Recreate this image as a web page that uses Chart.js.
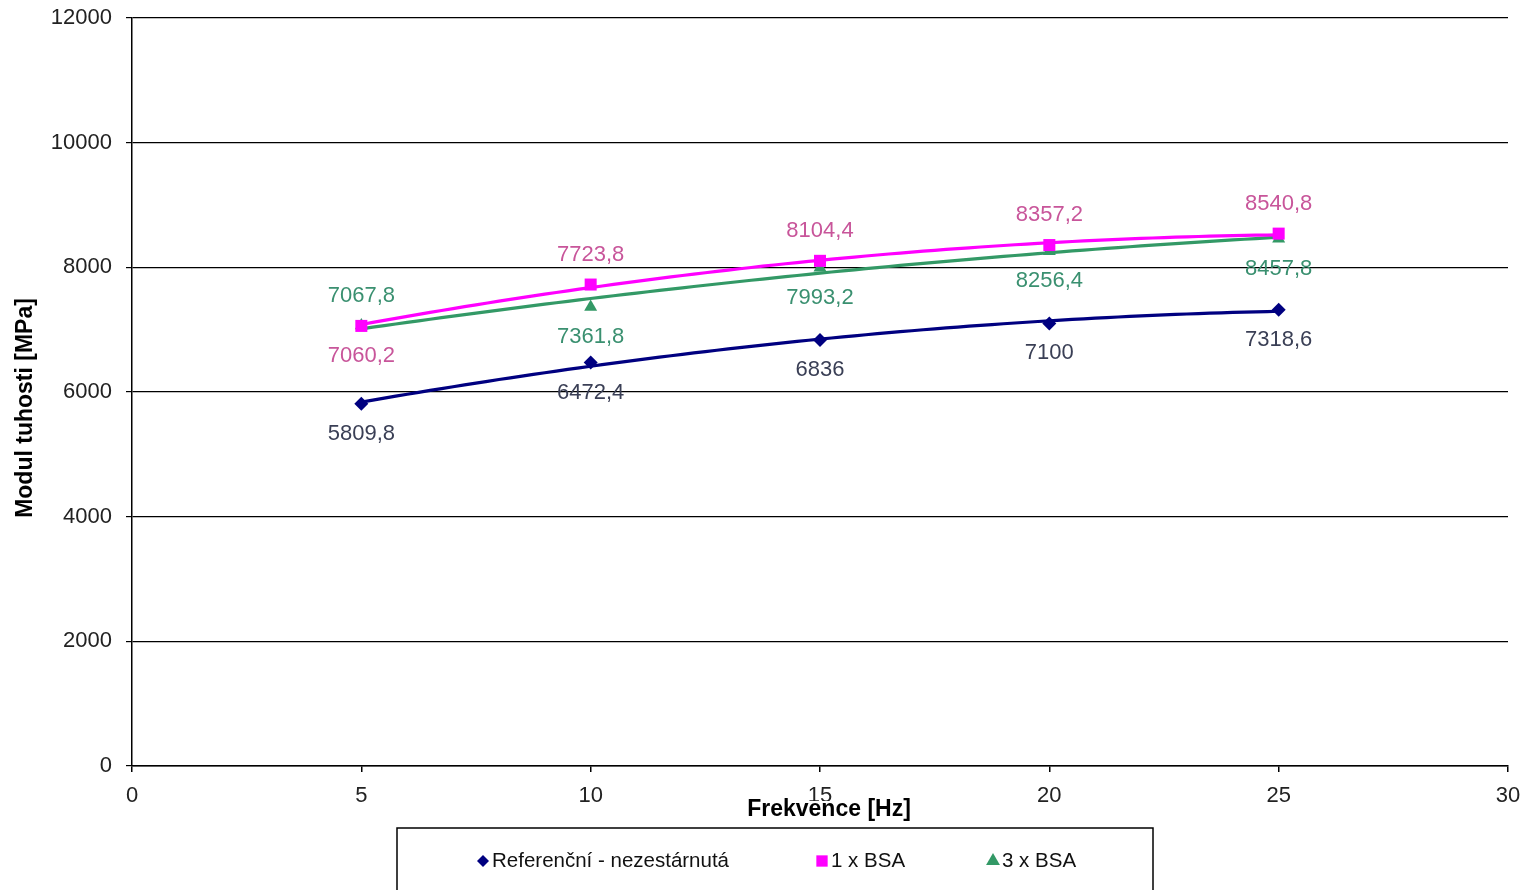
<!DOCTYPE html>
<html>
<head>
<meta charset="utf-8">
<script src="https://cdn.jsdelivr.net/npm/chart.js@4.4.1/dist/chart.umd.min.js"></script>
<style>
  html, body { margin: 0; padding: 0; background: #fff; }
  #wrap { width: 1526px; height: 890px; }
</style>
</head>
<body>
<div id="wrap"><canvas id="c" width="1526" height="890"></canvas></div>
<script>
// Frequency (Hz) and stiffness modulus (MPa) for each sample set
const frequencies = [5, 10, 15, 20, 25];
const referenceValues = [5809.8, 6472.4, 6836, 7100, 7318.6];
const bsa1Values = [7060.2, 7723.8, 8104.4, 8357.2, 8540.8];
const bsa3Values = [7067.8, 7361.8, 7993.2, 8256.4, 8457.8];
const seriesNames = ['Referenční - nezestárnutá', '1 x BSA', '3 x BSA'];
const xTicks = [0, 5, 10, 15, 20, 25, 30];
const yTicks = [0, 2000, 4000, 6000, 8000, 10000, 12000];
const xAxisTitle = 'Frekvence [Hz]';
const yAxisTitle = 'Modul tuhosti [MPa]';

const FONT = '"Liberation Sans", Arial, sans-serif';

// Second-order polynomial trend line (least squares), like a spreadsheet trendline
function polyFit2(xs, ys) {
  const n = xs.length;
  let s = [0, 0, 0, 0, 0], t = [0, 0, 0];
  for (let i = 0; i < n; i++) {
    let p = 1;
    for (let k = 0; k <= 4; k++) { s[k] += p; if (k <= 2) t[k] += p * ys[i]; p *= xs[i]; }
  }
  const M = [[s[0], s[1], s[2], t[0]], [s[1], s[2], s[3], t[1]], [s[2], s[3], s[4], t[2]]];
  for (let c = 0; c < 3; c++) {
    for (let r = c + 1; r < 3; r++) {
      const f = M[r][c] / M[c][c];
      for (let k = c; k < 4; k++) M[r][k] -= f * M[c][k];
    }
  }
  const a = [0, 0, 0];
  for (let r = 2; r >= 0; r--) {
    let v = M[r][3];
    for (let k = r + 1; k < 3; k++) v -= M[r][k] * a[k];
    a[r] = v / M[r][r];
  }
  return x => a[0] + a[1] * x + a[2] * x * x;
}

function trendPoints(xs, ys) {
  const f = polyFit2(xs, ys);
  const pts = [];
  const x0 = xs[0], x1 = xs[xs.length - 1];
  for (let x = x0; x <= x1 + 1e-9; x += 0.25) pts.push({ x: x, y: f(x) });
  return pts;
}

const toPoints = ys => frequencies.map((x, i) => ({ x: x, y: ys[i] }));

const styles = [
  { color: '#000080', text: '#3a3f55', marker: 'rectRot', radius: 7, legendRadius: 6, labelSide: ['below', 'below', 'below', 'below', 'below'] },
  { color: '#FF00FF', text: '#c8559a', marker: 'rect', radius: 8.5, legendRadius: 8, labelSide: ['below', 'above', 'above', 'above', 'above'] },
  { color: '#339966', text: '#3a9070', marker: 'triangle', radius: 7.5, legendRadius: 8, labelSide: ['above', 'below', 'below', 'below', 'below'] }
];
const seriesValues = [referenceValues, bsa1Values, bsa3Values];

const datasets = [];
seriesValues.forEach((vals, i) => {
  datasets.push({
    label: seriesNames[i] + ' trend',
    isTrend: true,
    data: trendPoints(frequencies, vals),
    showLine: true,
    borderColor: styles[i].color,
    borderWidth: 3.2,
    pointRadius: 0,
    tension: 0,
    order: 2
  });
});
seriesValues.forEach((vals, i) => {
  datasets.push({
    label: seriesNames[i],
    seriesIndex: i,
    data: toPoints(vals),
    showLine: false,
    pointStyle: styles[i].marker,
    pointRadius: styles[i].radius,
    pointHoverRadius: styles[i].radius,
    backgroundColor: styles[i].color,
    borderColor: styles[i].color,
    borderWidth: 0,
    order: 1
  });
});

const fmt = v => String(v).replace('.', ',');

// Value labels next to each marker
const valueLabels = {
  id: 'valueLabels',
  afterDatasetsDraw(chart) {
    const ctx = chart.ctx;
    ctx.save();
    ctx.font = '22px ' + FONT;
    ctx.textAlign = 'center';
    ctx.textBaseline = 'middle';
    chart.data.datasets.forEach((ds, di) => {
      if (ds.isTrend) return;
      const st = styles[ds.seriesIndex];
      const meta = chart.getDatasetMeta(di);
      meta.data.forEach((pt, j) => {
        const dy = st.labelSide[j] === 'above' ? -30 : 30;
        ctx.fillStyle = st.text;
        ctx.fillText(fmt(ds.data[j].y), pt.x, pt.y + dy);
      });
    });
    ctx.restore();
  }
};

// X-axis title on an opaque white box that sits over the tick labels
const xTitleBox = {
  id: 'xTitleBox',
  afterDraw(chart) {
    const ctx = chart.ctx;
    const area = chart.chartArea;
    const cx = (area.left + area.right) / 2 + 9;
    const cy = area.bottom + 44;
    ctx.save();
    ctx.font = 'bold 23px ' + FONT;
    const w = ctx.measureText(xAxisTitle).width;
    ctx.fillStyle = '#fff';
    ctx.fillRect(cx - w / 2 - 3, cy - 9, w + 6, 22);
    ctx.fillStyle = '#000';
    ctx.textAlign = 'center';
    ctx.textBaseline = 'middle';
    ctx.fillText(xAxisTitle, cx, cy);
    ctx.restore();
  }
};

// Framed legend row under the plot
const framedLegend = {
  id: 'framedLegend',
  afterDraw(chart) {
    const ctx = chart.ctx;
    const box = { left: 397, top: 828, right: 1153, bottom: 900 };
    ctx.save();
    ctx.strokeStyle = '#000';
    ctx.lineWidth = 1.5;
    ctx.strokeRect(box.left, box.top, box.right - box.left, box.bottom - box.top);
    const y = 861;
    const markerX = [483, 822, 993];
    ctx.font = '20.5px ' + FONT;
    ctx.textBaseline = 'middle';
    ctx.textAlign = 'left';
    markerX.forEach((mx, i) => {
      const st = styles[i];
      ctx.fillStyle = st.color;
      ctx.strokeStyle = st.color;
      Chart.helpers.drawPoint(ctx, {
        pointStyle: st.marker, radius: st.legendRadius, rotation: 0, borderWidth: 0
      }, mx, y);
      ctx.fillStyle = '#111';
      ctx.fillText(seriesNames[i], mx + 9, y);
    });
    ctx.restore();
  }
};

Chart.defaults.font.family = FONT;

new Chart(document.getElementById('c'), {
  type: 'scatter',
  data: { datasets: datasets },
  options: {
    responsive: false,
    animation: false,
    events: [],
    layout: { padding: { left: 0, right: 18, top: 18, bottom: 0 } },
    plugins: {
      legend: { display: false },
      tooltip: { enabled: false }
    },
    scales: {
      x: {
        type: 'linear',
        min: 0, max: 30,
        afterBuildTicks: s => { s.ticks = xTicks.map(v => ({ value: v })); },
        afterFit: s => { s.height = 124; s.paddingLeft = 0; s.paddingRight = 0; },
        ticks: { font: { size: 22 }, color: '#222', padding: 11, maxRotation: 0, callback: v => v },
        grid: { display: true, drawOnChartArea: false, drawTicks: true, tickLength: 6, color: '#000', lineWidth: 1.5 },
        border: { display: true, color: '#000', width: 1.5 },
        title: { display: false }
      },
      y: {
        type: 'linear',
        min: 0, max: 12000,
        afterBuildTicks: s => { s.ticks = yTicks.map(v => ({ value: v })); },
        afterFit: s => { s.width = 132; s.paddingTop = 0; s.paddingBottom = 0; },
        ticks: { font: { size: 22 }, color: '#222', padding: 14, callback: v => v },
        grid: { display: true, drawOnChartArea: true, drawTicks: true, tickLength: 6, color: '#000', lineWidth: 1.2 },
        border: { display: true, color: '#000', width: 1.5 },
        title: {
          display: true, text: yAxisTitle + '     ', color: '#000',
          font: { size: 23, weight: 'bold' }, padding: { top: 12, bottom: 0 }
        }
      }
    }
  },
  plugins: [valueLabels, xTitleBox, framedLegend]
});
</script>
</body>
</html>
